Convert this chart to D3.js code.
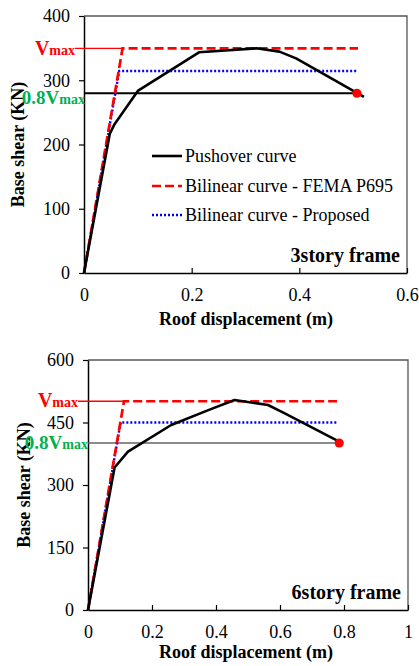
<!DOCTYPE html>
<html><head><meta charset="utf-8">
<script src="https://cdn.jsdelivr.net/npm/d3@7/dist/d3.min.js"></script>
<style>
body{margin:0;background:#fff;}
svg{display:block;font-family:"Liberation Serif","Times New Roman",serif;}
</style></head>
<body><svg id="c" width="419" height="666"></svg>
<script>
// ---- Data: 3-story frame ----
const xTicks3 = [0, 0.2, 0.4, 0.6];
const yTicks3 = [0, 100, 200, 300, 400];
const push3X = [0, 0.048, 0.057, 0.1006, 0.2136, 0.32, 0.363, 0.394, 0.52];
const push3Y = [0, 217, 232, 284, 343.5, 349.7, 344.5, 334, 274];
const fema3X = [0, 0.0716, 0.509];
const fema3Y = [0, 349.7, 349.7];
const prop3X = [0, 0.0654, 0.5056];
const prop3Y = [0, 314.4, 314.4];
const vmax3 = 349.7;
const v08_3 = 279.8;
const ult3X = 0.507;

// ---- Data: 6-story frame ----
const xTicks6 = [0, 0.2, 0.4, 0.6, 0.8, 1];
const yTicks6 = [0, 150, 300, 450, 600];
const push6X = [0, 0.083, 0.125, 0.26, 0.38, 0.458, 0.5625, 0.615, 0.785];
const push6Y = [0, 342, 380, 444, 481, 504, 492, 472, 404];
const fema6X = [0, 0.1125, 0.778];
const fema6Y = [0, 501, 501];
const prop6X = [0, 0.102, 0.778];
const prop6Y = [0, 450, 450];
const vmax6 = 501;
const v08_6 = 400.8;
const ult6X = 0.785;

const legendLabels = ["Pushover curve", "Bilinear curve - FEMA P695", "Bilinear curve - Proposed"];

const svg = d3.select("#c");

function zip(xs, ys){ return xs.map((x,i)=>[x, ys[i]]); }

function panel(o){
  const g = svg.append("g");
  const x = d3.scaleLinear().domain(o.xDom).range([o.left, o.right]);
  const y = d3.scaleLinear().domain(o.yDom).range([o.bottom, o.top]);

  // frame top/right
  g.append("path").attr("d", `M${o.left},${o.top}H${o.right}V${o.bottom}`)
    .attr("fill","none").attr("stroke","#555").attr("stroke-width",1.3);

  const xa = g.append("g").attr("transform",`translate(0,${o.bottom})`)
    .call(d3.axisBottom(x).tickValues(o.xTicks).tickSizeInner(-5).tickSizeOuter(0).tickPadding(15)
      .tickFormat(d=>d3.format("~g")(d)));
  const ya = g.append("g").attr("transform",`translate(${o.left},0)`)
    .call(d3.axisLeft(y).tickValues(o.yTicks).tickSizeInner(5).tickSizeOuter(0).tickPadding(9));
  [xa, ya].forEach(a=>{
    a.attr("font-family", null);
    a.selectAll("text").attr("font-size",18).attr("font-family","Liberation Serif").attr("fill","#000");
    a.select(".domain").attr("stroke","#000").attr("stroke-width",1.5);
    a.selectAll(".tick line").attr("stroke","#000").attr("stroke-width",1.2);
  });

  // titles
  g.append("text").attr("x", 246).attr("y", o.bottom + o.xTitleDy).attr("text-anchor","middle")
    .attr("font-size",18).attr("font-weight","bold").text("Roof displacement (m)");
  g.append("text").attr("transform",`translate(${o.yTitleX},${(o.top+o.bottom)/2}) rotate(-90)`)
    .attr("text-anchor","middle").attr("font-size",18).attr("font-weight","bold").text("Base shear (KN)");
  g.append("text").attr("x", o.right - 7).attr("y", o.bottom - 11).attr("text-anchor","end")
    .attr("font-size",20).attr("font-weight","bold").text(o.name);

  const line = d3.line().x(d=>x(d[0])).y(d=>y(d[1]));

  // Vmax reference line
  g.append("line").attr("x1", o.vmaxLabelX).attr("x2", x(o.femaX[1]))
    .attr("y1", y(o.vmax)).attr("y2", y(o.vmax)).attr("stroke","#f00").attr("stroke-width",1.3);
  // 0.8 Vmax line
  g.append("line").attr("x1", o.left).attr("x2", x(o.ultX))
    .attr("y1", y(o.v08)).attr("y2", y(o.v08)).attr("stroke", o.v08Color).attr("stroke-width", o.v08W);

  // labels
  const lv = g.append("text").attr("x", o.vmaxLabelX).attr("y", y(o.vmax) + o.vmaxDy)
    .attr("text-anchor","end").attr("fill","#f00").attr("font-weight","bold");
  lv.append("tspan").attr("font-size",20).text("V");
  lv.append("tspan").attr("font-size",14).text("max");
  const l8 = g.append("text").attr("x", o.v08LabelX).attr("y", y(o.v08) + o.v08Dy)
    .attr("text-anchor","end").attr("fill","#00b050").attr("font-weight","bold");
  l8.append("tspan").attr("font-size",19).text("0.8V");
  l8.append("tspan").attr("font-size",14).text("max");

  // series
  g.append("path").datum(zip(o.propX,o.propY)).attr("d",line).attr("fill","none")
    .attr("stroke","#00f").attr("stroke-width",2.4).attr("stroke-dasharray","2,2");
  g.append("path").datum(zip(o.femaX,o.femaY)).attr("d",line).attr("fill","none")
    .attr("stroke","#f00").attr("stroke-width",2.7).attr("stroke-dasharray","9,4");
  g.append("path").datum(zip(o.pushX,o.pushY)).attr("d",line).attr("fill","none")
    .attr("stroke","#000").attr("stroke-width",2.6).attr("stroke-linejoin","round");
  g.append("circle").attr("cx", x(o.ultX)).attr("cy", y(o.v08)).attr("r",4.6).attr("fill","#f00");

  if(o.legend){
    const styles = [
      {c:"#000", w:2.6, d:null},
      {c:"#f00", w:2.7, d:"9,4"},
      {c:"#00f", w:2.4, d:"2,2"}
    ];
    const rows = [156, 186, 215];
    legendLabels.forEach((t,i)=>{
      g.append("line").attr("x1",152).attr("x2",182).attr("y1",rows[i]).attr("y2",rows[i])
        .attr("stroke",styles[i].c).attr("stroke-width",styles[i].w).attr("stroke-dasharray",styles[i].d);
      g.append("text").attr("x",185).attr("y",rows[i]).attr("dy","0.33em").attr("font-size",18).text(t);
    });
  }
}

panel({
  left:84, right:407, top:16, bottom:273, xDom:[0,0.6], yDom:[0,400],
  xTicks:xTicks3, yTicks:yTicks3, pushX:push3X, pushY:push3Y, femaX:fema3X, femaY:fema3Y,
  propX:prop3X, propY:prop3Y, vmax:vmax3, v08:v08_3, ultX:ult3X, name:"3story frame",
  xTitleDy:52, yTitleX:24, vmaxLabelX:75, vmaxDy:7, v08LabelX:85, v08Dy:11, v08Color:"#000", v08W:1.8, legend:true
});
panel({
  left:88, right:408, top:360, bottom:610, xDom:[0,1], yDom:[0,600],
  xTicks:xTicks6, yTicks:yTicks6, pushX:push6X, pushY:push6Y, femaX:fema6X, femaY:fema6Y,
  propX:prop6X, propY:prop6Y, vmax:vmax6, v08:v08_6, ultX:ult6X, name:"6story frame",
  xTitleDy:48, yTitleX:30, vmaxLabelX:78, vmaxDy:6, v08LabelX:88, v08Dy:6, v08Color:"#666", v08W:1.4, legend:false
});
</script></body></html>
